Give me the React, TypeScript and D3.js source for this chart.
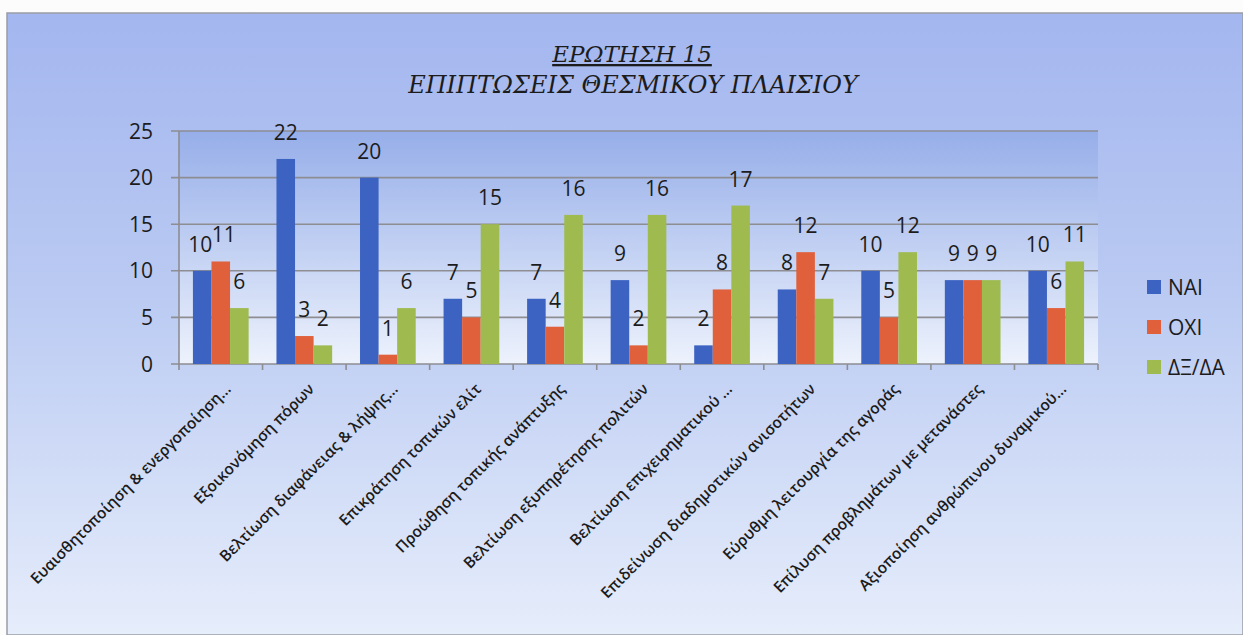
import * as d3 from "d3";

const categories = [
  "Ευαισθητοποίηση & ενεργοποίηση...",
  "Εξοικονόμηση πόρων",
  "Βελτίωση διαφάνειας & λήψης...",
  "Επικράτηση τοπικών ελίτ",
  "Προώθηση τοπικής ανάπτυξης",
  "Βελτίωση εξυπηρέτησης πολιτών",
  "Βελτίωση επιχειρηματικού ...",
  "Επιδείνωση διαδημοτικών ανισοτήτων",
  "Εύρυθμη λειτουργία της αγοράς",
  "Επίλυση προβλημάτων με μετανάστες",
  "Αξιοποίηση ανθρώπινου δυναμικού...",
];
const nai = [10, 22, 20, 7, 7, 9, 2, 8, 10, 9, 10];
const oxi = [11, 3, 1, 5, 4, 2, 8, 12, 5, 9, 6];
const dxda = [6, 2, 6, 15, 16, 16, 17, 7, 12, 9, 11];
const seriesNames = ["NAI", "OXI", "ΔΞ/ΔΑ"];
const yTicks = [0, 5, 10, 15, 20, 25];

const series = [nai, oxi, dxda];
const colors = ["#3d63c2", "#e0603c", "#9fbb50"];

const W = 1243, H = 635;
const plot = { left: 179, right: 1098, top: 131, bottom: 364 };

const x = d3.scaleBand<string>().domain(categories).range([plot.left, plot.right]).paddingInner(0);
const gap = x.bandwidth() * 1.5 / 4.5 / 2;
const xs = d3.scaleBand<number>().domain([0, 1, 2]).range([gap, x.bandwidth() - gap]).padding(0);
const y = d3.scaleLinear().domain([0, 25]).range([plot.bottom, plot.top]);

const sans = "Open Sans, DejaVu Sans, sans-serif";
const serif = "DejaVu Serif, serif";
const ink = "#1c1c1c";

export default function App() {
  return (
    <svg width={W} height={H} style={{ position: "absolute", left: 0, top: 0 }}>
      <defs>
        <linearGradient id="bg" x1="0" y1="0" x2="0" y2="1">
          <stop offset="0%" stopColor="#a3b6ef" />
          <stop offset="45%" stopColor="#bacaf2" />
          <stop offset="100%" stopColor="#e6edfb" />
        </linearGradient>
        <linearGradient id="plotbg" x1="0" y1="0" x2="0" y2="1">
          <stop offset="0%" stopColor="#96aee9" />
          <stop offset="100%" stopColor="#edf2fc" />
        </linearGradient>
      </defs>
      <rect width={W} height={H} fill="#fbfcfb" />
      <rect x={7} y={13} width={W - 7} height={H - 13} fill="url(#bg)" stroke="#9a9ca6" strokeWidth={1.5} />

      <text x={632} y={62} textAnchor="middle" fontFamily={serif} fontStyle="italic" fontSize={23} fill={ink} textDecoration="underline">ΕΡΩΤΗΣΗ 15</text>
      <text x={633} y={93} textAnchor="middle" fontFamily={serif} fontStyle="italic" fontSize={24} fill={ink}>ΕΠΙΠΤΩΣΕΙΣ ΘΕΣΜΙΚΟΥ ΠΛΑΙΣΙΟΥ</text>

      <rect x={plot.left} y={plot.top} width={plot.right - plot.left} height={plot.bottom - plot.top} fill="url(#plotbg)" />

      {yTicks.map((t) => (
        <g key={t}>
          <line x1={plot.left - 8} x2={plot.right} y1={y(t)} y2={y(t)} stroke="#8d8d92" strokeWidth={1.6} />
          <text x={153} y={y(t)} dy="0.36em" textAnchor="end" fontFamily={sans} fontSize={21} fill={ink}>{t}</text>
        </g>
      ))}
      <line x1={plot.left} x2={plot.left} y1={plot.top} y2={plot.bottom + 1} stroke="#8d8d92" strokeWidth={1.6} />
      {categories.map((c) => (
        <line key={c} x1={x(c)!} x2={x(c)!} y1={plot.bottom} y2={plot.bottom + 6} stroke="#8d8d92" strokeWidth={1.6} />
      ))}
      <line x1={plot.right} x2={plot.right} y1={plot.bottom} y2={plot.bottom + 6} stroke="#8d8d92" strokeWidth={1.6} />

      {categories.map((c, i) => (
        <g key={c} transform={`translate(${x(c)},0)`}>
          {series.map((s, j) => (
            <g key={j}>
              <rect x={xs(j)} y={y(s[i])} width={xs.bandwidth()} height={y(0) - y(s[i])} fill={colors[j]} />
              <text x={xs(j)! + xs.bandwidth() / 2 + (i === 0 ? (j === 0 ? -2 : j === 1 ? 3 : 0) : 0)} y={y(s[i]) - 19} textAnchor="middle" fontFamily={sans} fontSize={21} fill={ink}>{s[i]}</text>
            </g>
          ))}
        </g>
      ))}

      {categories.map((c) => {
        const cx = x(c)! + x.bandwidth() / 2 + 11;
        return (
          <text key={c} transform={`translate(${cx},390) rotate(-45)`} textAnchor="end" fontFamily={sans} fontSize={15.5} fontWeight={600} fill={ink}>{c}</text>
        );
      })}

      {seriesNames.map((n, j) => (
        <g key={n} transform={`translate(1147,${287 + j * 40})`}>
          <rect x={0} y={-7} width={14} height={14} fill={colors[j]} />
          <text x={21} y={0} dy="0.36em" fontFamily={sans} fontSize={21} fill={ink}>{n}</text>
        </g>
      ))}
    </svg>
  );
}
